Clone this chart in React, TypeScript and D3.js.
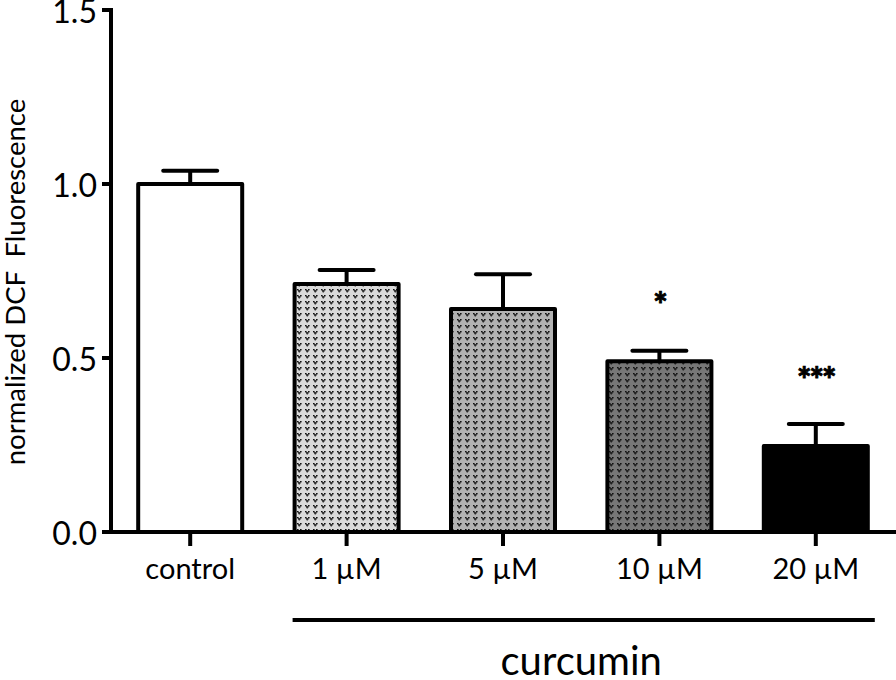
import React from "react";
import * as d3 from "d3";

const categories = ["control", "1 µM", "5 µM", "10 µM", "20 µM"];
const means = [1.0, 0.713, 0.641, 0.491, 0.247];
const errors = [0.038, 0.04, 0.1, 0.03, 0.063];
const fills = ["#ffffff", "#dadada", "#b2b2b2", "#777777", "#000000"];
const patterned = [false, true, true, true, false];
const yTicks = [0, 0.5, 1.0, 1.5];
const sigLabels = ["", "", "", "*", "***"];
const sigPos = [0, 0, 0, 0.672, 0.457];
const groupLabel = "curcumin";
const yLabel = "normalized DCF  Fluorescence";

const W = 896;
const H = 680;
const FONT = "Lato, 'Open Sans', sans-serif";

export default function App() {
  const x = d3
    .scaleBand<string>()
    .domain(categories)
    .range([112, 894])
    .paddingInner(0.335)
    .paddingOuter(0.1675);
  const y = d3.scaleLinear().domain([0, 1.5]).range([532, 10]);
  const bw = x.bandwidth();
  const capW = 54;

  return (
    <svg
      width={W}
      height={H}
      style={{ position: "absolute", left: 0, top: 0, background: "#fff" }}
      fontFamily={FONT}
    >
      <defs>
        {fills.map((f, i) =>
          patterned[i] ? (
            <pattern
              key={i}
              id={`pat${i}`}
              patternUnits="userSpaceOnUse"
              width={8}
              height={6}
            >
              <rect width={8} height={6} fill={f} />
              <rect x={1} y={1} width={1.6} height={1.4} fill="#111" />
              <rect x={4} y={1} width={1.6} height={1.4} fill="#111" />
              <rect x={2} y={2.2} width={2.6} height={1.4} fill="#111" />
              <rect x={2.6} y={3.4} width={1.4} height={1} fill="#111" />
            </pattern>
          ) : null
        )}
      </defs>

      {/* bars */}
      {categories.map((c, i) => {
        const x0 = x(c)!;
        const cx = x0 + bw / 2;
        const top = y(means[i]);
        const et = y(means[i] + errors[i]);
        return (
          <g key={c}>
            <line x1={cx} x2={cx} y1={top} y2={et} stroke="#000" strokeWidth={4} />
            <line
              x1={cx - capW / 2}
              x2={cx + capW / 2}
              y1={et}
              y2={et}
              stroke="#000"
              strokeWidth={4}
              strokeLinecap="round"
            />
            <rect
              x={x0}
              y={top}
              width={bw}
              height={y(0) - top}
              fill={patterned[i] ? `url(#pat${i})` : fills[i]}
              stroke="#000"
              strokeWidth={4}
              strokeLinejoin="round"
            />
            {sigLabels[i] ? (
              <text
                x={cx}
                y={y(sigPos[i]) + 19}
                textAnchor="middle"
                fontSize={34}
                fontWeight="900"
                letterSpacing={-2}
                stroke="#000"
                strokeWidth={0.8}
              >
                {sigLabels[i]}
              </text>
            ) : null}
            <line x1={cx} x2={cx} y1={y(0)} y2={y(0) + 14} stroke="#000" strokeWidth={4} />
            <text x={cx} y={579} textAnchor="middle" fontSize={29}>
              {c}
            </text>
          </g>
        );
      })}

      {/* y axis */}
      <line x1={111} x2={111} y1={y(1.5) - 2} y2={y(0) + 2} stroke="#000" strokeWidth={4} />
      {yTicks.map((t) => (
        <g key={t}>
          <line x1={102} x2={111} y1={y(t)} y2={y(t)} stroke="#000" strokeWidth={4} />
          <text x={97} y={y(t) + 13} textAnchor="end" fontSize={32}>
            {t.toFixed(1)}
          </text>
        </g>
      ))}

      {/* x axis */}
      <line x1={102} x2={W} y1={y(0)} y2={y(0)} stroke="#000" strokeWidth={4} />

      {/* y label */}
      <text
        transform={`translate(25, ${282}) rotate(-90)`}
        textAnchor="middle"
        fontSize={27.5}
        style={{ whiteSpace: "pre" }}
      >
        {yLabel}
      </text>

      {/* group line */}
      <line
        x1={x(categories[1])! - 2}
        x2={x(categories[4])! + bw + 7}
        y1={620}
        y2={620}
        stroke="#000"
        strokeWidth={4}
      />
      <text
        x={(x(categories[1])! + x(categories[4])! + bw) / 2}
        y={675}
        textAnchor="middle"
        fontSize={40}
      >
        {groupLabel}
      </text>
    </svg>
  );
}
